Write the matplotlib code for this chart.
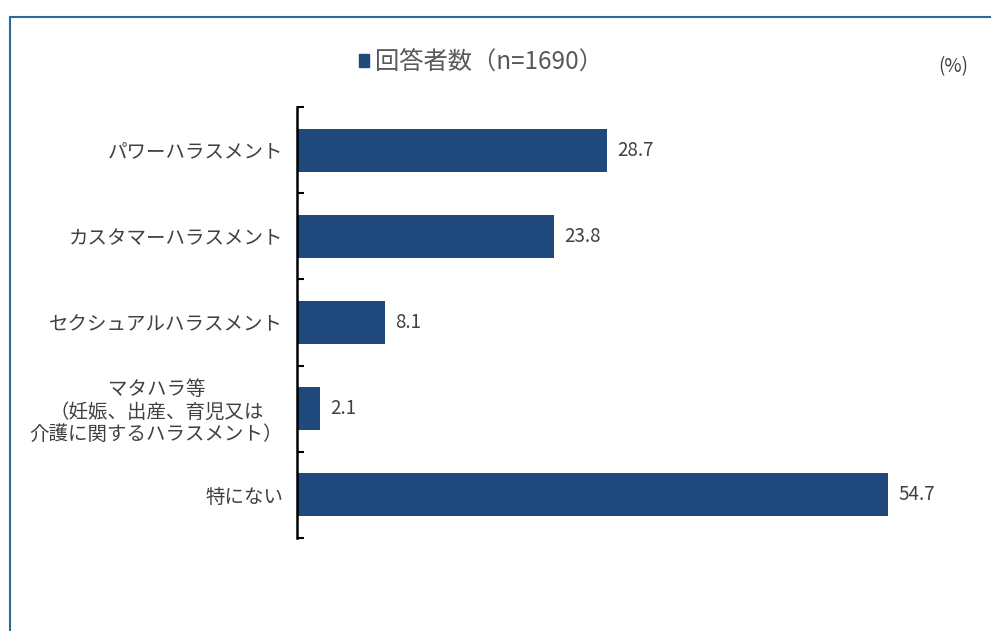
import matplotlib.pyplot as plt
import matplotlib.patches as mpatches
import numpy as np

plt.rcParams['font.family'] = ['Noto Sans CJK JP', 'DejaVu Sans']

categories = ['パワーハラスメント', 'カスタマーハラスメント', 'セクシュアルハラスメント',
              'マタハラ等\n（妊娠、出産、育児又は\n介護に関するハラスメント）', '特にない']
values = [28.7, 23.8, 8.1, 2.1, 54.7]
series_name = '回答者数（n=1690）'

bar_color = '#1F497D'
text_color = '#404040'

fig = plt.figure(figsize=(9.91, 6.31), dpi=100)
# outer frame
fig.patches.append(mpatches.Rectangle((10/991, -0.01), 1.0, 1 - 17/631 + 0.01,
                                      transform=fig.transFigure, fill=False,
                                      edgecolor='#2E6A93', linewidth=1.5))

ax = fig.add_axes([297/991, 1 - 538/631, 670/991, 431/631])
y = np.arange(len(categories))
ax.barh(y, values, height=0.5, color=bar_color, label=series_name)
for yi, v in zip(y, values):
    ax.text(v + 0.95, yi, f'{v:.1f}', va='center', ha='left', fontsize=13.5, color=text_color)

ax.set_ylim(len(categories) - 0.5, -0.5)
ax.set_xlim(0, 62)
ax.set_yticks(y)
ax.set_yticklabels(categories, fontsize=14, color=text_color, linespacing=1.1,
                   multialignment='center')
ax.tick_params(axis='y', which='major', length=0, pad=10)
ax.set_yticks(np.arange(-0.5, len(categories)), minor=True)
ax.tick_params(axis='y', which='minor', direction='in', length=5, width=1.5, color='black')
ax.set_xticks([])
for s in ['top', 'right', 'bottom']:
    ax.spines[s].set_visible(False)
ax.spines['left'].set_linewidth(1.8)
ax.spines['left'].set_color('black')

fig.legend(handles=[mpatches.Patch(color=bar_color, label=series_name)],
           loc='center', bbox_to_anchor=(481/991, 1 - 62/631), frameon=False,
           fontsize=17.5, handlelength=0.42, handleheight=0.42, handletextpad=0.25,
           labelcolor='#595959')
fig.text(953/991, 1 - 67/631, '(%)', ha='center', va='center', fontsize=13.5, color=text_color)

fig.savefig('out.png', dpi=100)
